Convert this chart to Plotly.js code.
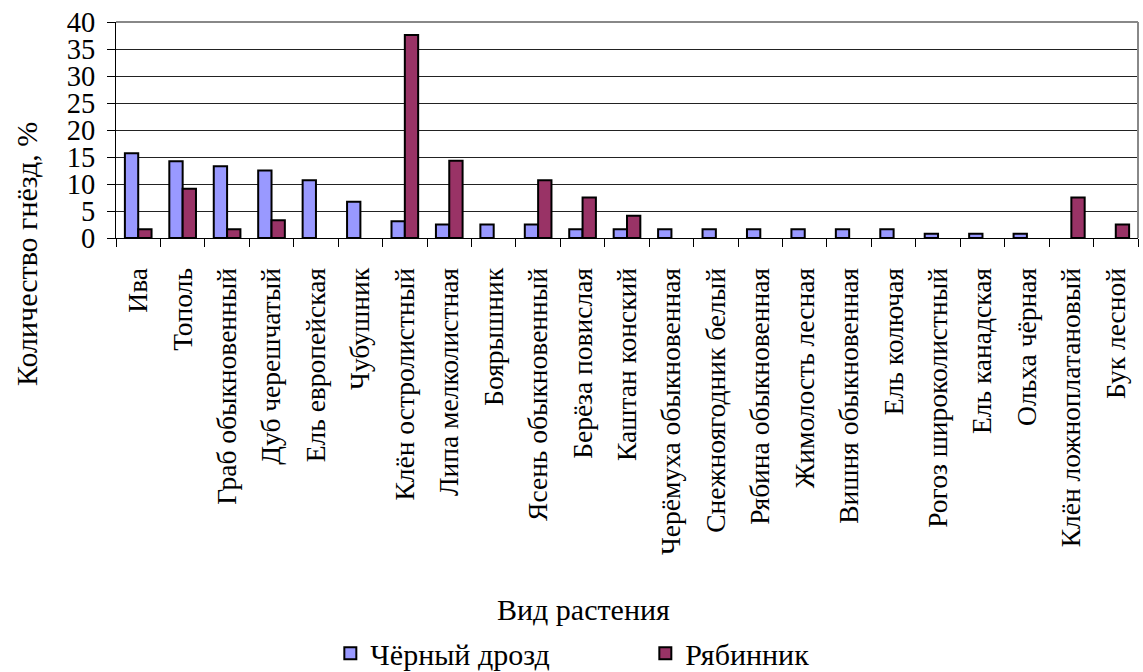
<!DOCTYPE html>
<html>
<head>
<meta charset="utf-8">
<script src="https://cdn.plot.ly/plotly-3.0.1.min.js"></script>
</head>
<body style="margin:0;padding:0;background:#fff">
<div id="chart"></div>
<script>
const categories = ["Ива","Тополь","Граб обыкновенный","Дуб черешчатый","Ель европейская","Чубушник","Клён остролистный","Липа мелколистная","Боярышник","Ясень обыкновенный","Берёза повислая","Каштан конский","Черёмуха обыкновенная","Снежноягодник белый","Рябина обыкновенная","Жимолость лесная","Вишня обыкновенная","Ель колючая","Рогоз широколистный","Ель канадская","Ольха чёрная","Клён ложноплатановый","Бук лесной"];
const blackbird = [15.7,14.2,13.3,12.5,10.7,6.7,3.1,2.5,2.5,2.5,1.6,1.6,1.6,1.6,1.6,1.6,1.6,1.6,0.8,0.8,0.8,null,null];
const fieldfare = [1.6,9.1,1.6,3.3,null,null,37.6,14.3,null,10.7,7.5,4.1,null,null,null,null,null,null,null,null,null,7.5,2.5];
const seriesNames = ["Чёрный дрозд","Рябинник"];
const yTicks = [0,5,10,15,20,25,30,35,40];

const FONT = "Liberation Serif";
const traces = [
  {type:"bar", name:seriesNames[0], x:categories, y:blackbird,
   marker:{color:"#9999FF", line:{color:"#000", width:2}}},
  {type:"bar", name:seriesNames[1], x:categories, y:fieldfare,
   marker:{color:"#993366", line:{color:"#000", width:2}}}
];
const layout = {
  width:1143, height:672,
  margin:{l:116, r:5, t:22, b:434, autoexpand:false},
  paper_bgcolor:"#fff", plot_bgcolor:"#fff",
  font:{family:FONT, size:28, color:"#000"},
  barmode:"group", bargap:0.4, bargroupgap:0,
  showlegend:true,
  legend:{orientation:"h", xref:"container", yref:"container", x:0.289, y:0.028, xanchor:"left", yanchor:"middle",
          entrywidth:270, entrywidthmode:"pixels", itemwidth:30, font:{family:FONT, size:30, color:"#000"}},
  xaxis:{type:"category", tickangle:-90, tickson:"boundaries", ticks:"outside", ticklen:8, tickcolor:"#000",
         showline:true, linecolor:"#000", linewidth:1, showgrid:false, ticklabelstandoff:18, automargin:false,
         tickfont:{family:FONT, size:27.5, color:"#000"}},
  yaxis:{range:[0,40], tickvals:yTicks, ticks:"outside", ticklen:8, tickcolor:"#000", automargin:false,
         showline:true, linecolor:"#000", linewidth:1, showgrid:true, gridcolor:"#222", gridwidth:1,
         zeroline:false, tickfont:{family:FONT, size:28.5, color:"#000"}, ticklabelstandoff:6},
  shapes:[
    {type:"line", xref:"paper", yref:"paper", x0:1, x1:1, y0:0, y1:1, line:{color:"#888", width:2}},
    {type:"line", xref:"paper", yref:"paper", x0:0, x1:1, y0:1, y1:1, line:{color:"#888", width:2}}
  ],
  annotations:[
    {text:"Количество гнёзд, %", xref:"paper", yref:"paper", x:-0.087, y:-0.074, textangle:-90,
     showarrow:false, xanchor:"center", yanchor:"middle", font:{family:FONT, size:30, color:"#000"}},
    {text:"Вид растения", xref:"paper", yref:"paper", x:0.457, y:-1.7176,
     showarrow:false, xanchor:"center", yanchor:"middle", font:{family:FONT, size:30, color:"#000"}}
  ]
};
Plotly.newPlot("chart", traces, layout, {displayModeBar:false});
</script>
</body>
</html>
